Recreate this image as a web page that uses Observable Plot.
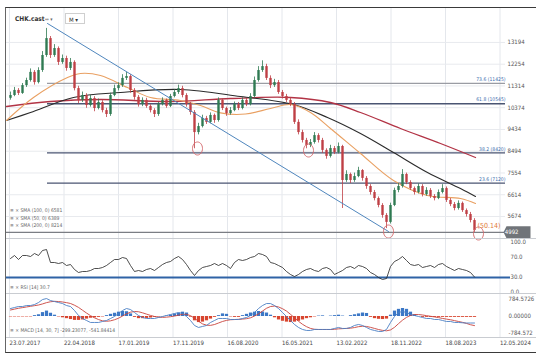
<!DOCTYPE html>
<html><head><meta charset="utf-8">
<script src="https://cdn.jsdelivr.net/npm/d3@7"></script>
<script src="https://cdn.jsdelivr.net/npm/@observablehq/plot@0.6"></script>
<style>
html,body{margin:0;padding:0;background:#fff;}
#wrap{position:relative;width:536px;height:359px;overflow:hidden;font-family:"Liberation Sans Narrow","DejaVu Sans Condensed","Liberation Sans",sans-serif;}
#wrap svg{position:absolute;left:0;overflow:visible;}
.lbl{position:absolute;white-space:nowrap;line-height:1;color:#555;z-index:5;}
.frame{position:absolute;left:5px;top:7px;width:531px;height:346px;border-top:1.5px solid #3a3a3a;border-left:1.5px solid #666;border-bottom:1.5px solid #3a3a3a;box-sizing:border-box;z-index:4;pointer-events:none;}
.sep{position:absolute;left:6px;width:530px;height:0;border-top:1px solid #c9ccd1;z-index:4;}
.mbox{position:absolute;left:65px;top:13px;width:20px;height:11px;border:1px solid #cfcfcf;box-sizing:border-box;font-size:6px;padding:2px 0 0 3px;color:#333;z-index:5;background:#fff;}
</style></head><body><div id="wrap"><div class="frame"></div></div>
<script>
const FONT = '"Liberation Sans Narrow","DejaVu Sans Condensed","Liberation Sans",sans-serif';

// ---------- data ----------
const firstOpen = 10780;
const closes = [10900,11120,10990,11330,11550,11900,11460,11980,12630,13360,
 12630,12930,12330,12500,12070,12330,11200,10690,10900,10470,
 10770,10340,10600,10250,10080,10900,11200,11330,11640,11720,
 11120,10820,10510,10690,10430,10250,10080,10510,10690,10430,
 10860,11030,11200,10900,10510,10170,9300,9560,9910,9740,
 10040,9820,10690,10340,10120,10250,10510,10340,10690,10510,
 10860,11550,11980,12150,11640,11330,11460,11030,10860,10690,
 10510,9740,9300,8960,8740,8870,9170,8960,8530,8270,
 8610,8440,8700,7230,7490,7230,7400,7660,7320,6970,
 6710,6450,6150,5720,5420,6150,6800,6970,7490,7140,
 6880,6710,6970,6620,6800,6540,6450,6710,6880,6370,
 6190,6020,6240,5930,5760,5500,5070];
const highs = [11050,11250,11200,11420,11650,12050,11980,12100,12800,13800,
 13450,13100,13000,12650,12600,12500,12400,11300,11050,10980,
 10900,10850,10750,10680,10350,11000,11350,11450,11800,11900,
 11800,11200,10900,10800,10780,10500,10330,10600,10800,10750,
 10950,11150,11350,11300,10980,10600,10250,9700,10050,10000,
 10150,10100,10800,10750,10400,10380,10620,10600,10800,10780,
 10980,11700,12150,12400,12250,11750,11600,11550,11120,10950,
 10800,10600,9850,9400,9050,9000,9300,9250,9050,8600,
 8750,8700,8850,8750,7650,7550,7550,7800,7700,7400,
 7050,6800,6520,6230,5800,6250,6900,7100,7700,7550,
 7220,6950,7080,7050,6920,6880,6620,6820,7050,6950,
 6450,6280,6350,6300,6000,5850,5580];
const lows = [10700,10850,10900,10950,11250,11480,11350,11400,11900,12550,
 12500,12550,12200,12250,11950,11980,11100,10550,10600,10350,
 10400,10200,10280,10150,9950,10000,10850,11100,11250,11550,
 11000,10700,10400,10420,10350,10150,9950,10000,10450,10350,
 10380,10800,10950,10800,10400,10050,8600,9200,9500,9650,
 9680,9700,9750,10250,10000,10050,10200,10250,10280,10420,
 10450,10800,11480,11900,11550,11200,11250,10950,10750,10600,
 10420,9650,9200,8850,8600,8650,8800,8850,8400,8150,
 8200,8350,8380,6020,7150,7100,7150,7350,7200,6850,
 6600,6350,6050,5600,5150,5350,6100,6700,6900,7050,
 6800,6600,6650,6520,6550,6450,6350,6400,6650,6280,
 6100,5920,5950,5850,5650,5400,4990];

// moving averages read as [bar, value]
const sma50 = [[-1,9821],[5.75,10815],[14.25,11679],[17.5,11852],[22.5,11765],[29.25,11246],[35,10815],[42.5,10685],[47.5,10469],[52.5,10150],[58.75,10100],[65,10340],[70,10512],[75,10167],[80,9476],[87.5,8396],[95.75,7229],[104.25,6581],[112.5,6452],[116.25,6236]];
const sma100 = [[-1,9821],[5,10167],[15.75,10815],[27.5,11031],[42.5,11160],[57.5,10858],[70.75,10512],[79.25,9951],[87.5,9260],[95.75,8439],[104.25,7575],[112.5,6884],[116.25,6538]];
const sma200 = [[-1,10426],[10,10642],[22.5,10728],[40,10642],[55,10772],[70,10815],[80,10599],[87.5,10167],[97.5,9476],[107.5,8828],[116.25,8223]];

const trendPts = [[9.25,14012],[94.5,5026]];
const markedLows = [[46.75,8612],[74.5,8525],[94.5,5026],[117,4940]];

const priceTicks = [13194,12254,11314,10374,9434,8494,7554,6614,5674];
const fibLevels = [11425,10545,8420,7120];
const fibLabels = ["73.6 (11425)","61.8 (10545)","38.2 (8420)","23.6 (7120)"];
const fibStart = 9.25, fibEnd = 123.75;
const lastPrice = 4992;
const lastNote = "(50.14)";

const rsi = [68,74,66,74,74,72,78,74,84,86,
 60,60,58,60,54,56,46,40,42,42,
 44,48,48,50,54,60,66,66,70,68,
 54,42,44,42,46,48,44,50,56,60,
 62,68,72,66,56,44,34,44,50,52,
 54,58,54,58,54,48,60,66,64,66,
 70,72,78,76,72,60,58,54,50,42,
 36,32,36,42,46,48,44,42,48,50,
 46,36,40,44,50,52,48,54,52,48,
 40,36,30,26,28,52,62,66,72,64,
 56,54,56,50,52,54,50,56,58,52,
 48,44,48,46,44,40,31];
const rsiTicks = [100,70,30,0];
const rsiTickLabels = ["100.0","70.0","30.0","0.0"];
const rsiLevel = 30;

const macd = [368,414,460,460,506,506,552,644,782,828,
 736,690,644,598,506,460,276,46,-92,-184,
 -276,-276,-276,-230,-184,-92,0,138,276,368,
 322,184,46,-46,-92,-92,-92,-46,0,46,
 92,138,184,138,0,-184,-414,-506,-460,-414,
 -276,-184,-92,-92,-92,-138,-138,-138,-92,-46,
 46,184,368,506,598,598,506,368,184,0,
 -184,-368,-506,-598,-644,-644,-598,-598,-598,-598,
 -598,-552,-506,-552,-552,-506,-414,-368,-414,-506,
 -598,-644,-690,-690,-598,-276,0,184,230,184,
 92,46,0,-46,-92,-92,-138,-138,-184,-230,
 -230,-276,-276,-290,-300,-300,-300];
const signal = [300,340,380,410,440,470,
 500,530,580,640,680,700,
 690,670,640,600,520,420,
 290,160,40,-60,-140,-200,
 -220,-200,-150,-80,20,120,
 200,230,220,170,110,50,
 0,-30,-40,-30,-10,20,
 60,100,100,40,-80,-220,
 -340,-400,-410,-370,-300,-230,
 -180,-150,-140,-130,-120,-100,
 -60,20,120,250,380,460,
 480,440,360,250,100,-60,
 -220,-360,-470,-550,-590,-600,
 -600,-600,-600,-590,-570,-560,
 -550,-540,-510,-470,-450,-460,
 -500,-550,-600,-640,-660,-620,
 -500,-330,-170,-40,50,90,
 90,70,40,10,-20,-50,
 -90,-120,-150,-190,-230,-270,
 -320,-380,-420];
const hist = [-20,-20,-20,-20,-20,-20,40,80,180,250,
 150,60,-20,-60,-100,-140,-180,-180,-160,-120,
 -80,-60,-40,-20,40,100,150,200,230,220,
 120,-40,-100,-100,-90,-70,-40,-20,-10,20,
 60,110,150,200,160,-30,-200,-280,-260,-200,
 -120,-40,40,120,100,-20,-40,-40,40,100,
 160,200,230,210,160,60,-60,-160,-220,-260,
 -280,-260,-220,-160,-100,-60,-20,20,30,0,
 20,40,60,20,0,40,80,120,160,140,
 -40,-100,-130,-140,-120,60,250,330,370,330,
 200,80,0,-40,-40,-40,-40,-40,-40,-40,
 -40,-40,-40,-40,-40,-40,-40];
const macdTicks = [784.5726,0,-784.572];
const macdTickLabels = ["784.5726","0.00000","-784.572"];

const dateLabels = ["23.07.2017","22.04.2018","17.01.2019","17.11.2019","16.08.2020","16.05.2021","13.02.2022","18.11.2022","18.08.2023","12.05.2024"];
const dateBars = [-0.25,13.375,27,40.625,54.25,67.875,81.5,95.125,108.75,122.375];

const legendLines = ["SMA (100, 0) 6581","SMA (50, 0) 6389","SMA (200, 0) 8214"];
const symbolName = "CHK.cast";

// ---------- helpers ----------
const UP = "#2f7a52", DOWN = "#bf3f45";
const bars = closes.map((c, i) => ({i, open: i === 0 ? firstOpen : closes[i-1], close: c, high: highs[i], low: lows[i]}));
const candleColor = d => d.close >= d.open ? UP : DOWN;
const xOpt = {domain: [-1, 130], axis: null};
const ellipseSym = {draw(ctx){const rx=5, ry=6.5, k=0.5523;
  ctx.moveTo(rx,0); ctx.bezierCurveTo(rx,ry*k,rx*k,ry,0,ry); ctx.bezierCurveTo(-rx*k,ry,-rx,ry*k,-rx,0);
  ctx.bezierCurveTo(-rx,-ry*k,-rx*k,-ry,0,-ry); ctx.bezierCurveTo(rx*k,-ry,rx,-ry*k,rx,0); ctx.closePath();}};
const boxSym = {draw(ctx){ctx.moveTo(-15,0); ctx.lineTo(-12,-6); ctx.lineTo(12,-6); ctx.lineTo(12,6); ctx.lineTo(-12,6); ctx.closePath();}};
const wrap = document.getElementById("wrap");
function place(svg, top){ svg.style.top = top + "px"; svg.style.position = "absolute"; wrap.appendChild(svg); }
const grid = Plot.ruleX(dateBars, {x: d => d, stroke: "#e4e7ec", strokeWidth: 1});

// ---------- main pane ----------
const main = Plot.plot({
  width: 536, height: 231, marginTop: 0, marginBottom: 0, marginLeft: 6, marginRight: 6,
  x: xOpt, y: {domain: [4724, 14703], axis: null},
  style: {background: "none", fontFamily: FONT, overflow: "visible"},
  marks: [
    grid,
    Plot.ruleY(priceTicks, {y: d => d, x1: -1, x2: fibEnd, stroke: "#e8eaee", strokeWidth: 1}),
    Plot.ruleY(fibLevels.slice(0,1), {y: d => d, x1: fibStart, x2: fibEnd, stroke: "#9a9ca3", strokeWidth: 1.2}),
    Plot.ruleY(fibLevels.slice(1), {y: d => d, x1: fibStart, x2: fibEnd, stroke: "#4a5572", strokeWidth: 1.3}),
    Plot.text(fibLevels, {y: d => d, x: fibEnd, text: (d, i) => fibLabels[i], textAnchor: "end", dy: -4, fill: "#3c6cad", fontSize: 5}),
    Plot.ruleY([lastPrice], {y: d => d, stroke: "#7b7e84", strokeWidth: 1.3}),
    Plot.line(sma200, {x: d => d[0], y: d => d[1], stroke: "#b23345", strokeWidth: 1.3, curve: "catmull-rom"}),
    Plot.line(sma100, {x: d => d[0], y: d => d[1], stroke: "#2b2b2b", strokeWidth: 1.1, curve: "catmull-rom"}),
    Plot.line(sma50, {x: d => d[0], y: d => d[1], stroke: "#e9a062", strokeWidth: 1.1, curve: "catmull-rom"}),
    Plot.ruleX(bars, {x: "i", y1: "low", y2: "high", stroke: candleColor, strokeWidth: 0.8}),
    Plot.ruleX(bars, {x: "i", y1: "open", y2: "close", stroke: candleColor, strokeWidth: 2.4}),
    Plot.line(trendPts, {x: d => d[0], y: d => d[1], stroke: "#4f86bd", strokeWidth: 1}),
    Plot.dot(markedLows, {x: d => d[0], y: d => d[1], symbol: ellipseSym, r: 5, stroke: "#d4676a", fill: "none", strokeWidth: 0.9}),
    Plot.text(priceTicks, {y: d => d, frameAnchor: "right", dx: -23, textAnchor: "start", text: d => String(d), fontSize: 6, fill: "#555"}),
    Plot.dot([lastPrice], {y: d => d, frameAnchor: "right", dx: -12, symbol: boxSym, r: 5, fill: "#707479", stroke: "none"}),
    Plot.text([lastPrice], {y: d => d, frameAnchor: "right", dx: -12, text: d => String(d), fill: "#fff", fontSize: 6}),
    Plot.text([lastPrice], {y: d => d, frameAnchor: "right", dx: -30, dy: -7, text: () => lastNote, textAnchor: "end", fill: "#e07a3a", fontSize: 7})
  ]
});
place(main, 7);

// ---------- RSI pane ----------
const rsiPlot = Plot.plot({
  width: 536, height: 59, marginTop: 0, marginBottom: 4, marginLeft: 6, marginRight: 6,
  x: xOpt, y: {domain: [-2, 108], axis: null},
  style: {background: "none", fontFamily: FONT, overflow: "visible"},
  marks: [
    grid,
    Plot.ruleY([rsiLevel], {y: d => d, x1: -1, x2: 125, stroke: "#2f63a6", strokeWidth: 2}),
    Plot.line(rsi, {x: (d, i) => i, y: d => d, stroke: "#222", strokeWidth: 0.8}),
    Plot.text(rsiTicks, {y: d => d, frameAnchor: "right", dx: -20, textAnchor: "start", text: (d, i) => rsiTickLabels[i], fontSize: 6, fill: "#555"})
  ]
});
place(rsiPlot, 238);

// ---------- MACD pane + date axis ----------
const macdPlot = Plot.plot({
  width: 536, height: 66, marginTop: 0, marginBottom: 22, marginLeft: 6, marginRight: 6,
  x: xOpt, y: {domain: [-969, 1061], axis: null},
  style: {background: "none", fontFamily: FONT, overflow: "visible"},
  marks: [
    grid,
    Plot.ruleX(hist, {x: (d, i) => i, y1: 0, y2: d => d, stroke: d => d >= 0 ? "#3b77c6" : "#d8452f", strokeWidth: 3.2}),
    Plot.line(signal, {x: (d, i) => i, y: d => d, stroke: "#c8433c", strokeWidth: 0.9}),
    Plot.line(macd, {x: (d, i) => i, y: d => d, stroke: "#4a7fc4", strokeWidth: 0.9}),
    Plot.text(macdTicks, {y: d => d, frameAnchor: "right", dx: -22, textAnchor: "start", text: (d, i) => macdTickLabels[i], fontSize: 6, fill: "#555"}),
    Plot.text(dateLabels, {x: (d, i) => dateBars[i], frameAnchor: "bottom", dy: 7, textAnchor: "start", text: d => d, fontSize: 6, fill: "#444"})
  ]
});
place(macdPlot, 293);

// ---------- html labels ----------
function lbl(text, left, top, size, extra) {
  const d = document.createElement("div"); d.className = "lbl"; d.textContent = text;
  d.style.left = left + "px"; d.style.top = top + "px"; d.style.fontSize = size + "px";
  if (extra) Object.assign(d.style, extra); wrap.appendChild(d); return d;
}
lbl(symbolName, 15, 16, 6.5, {fontWeight: "600", color: "#333"});
lbl("\u21d4 \u25be", 45, 17, 5, {color: "#666"});
const mb = document.createElement("div"); mb.className = "mbox"; mb.textContent = "M \u25be"; wrap.appendChild(mb);
legendLines.forEach((t, i) => lbl("\u2261 \u00d7 " + t, 10, 208 + i * 7.5, 5, {color: "#666"}));
lbl("\u2261 \u00d7 RSI [14] 30.7", 10, 285, 5, {color: "#666"});
lbl("\u2261 \u00d7 MACD [14, 30, 7] -299.23077, -541.84414", 10, 328, 5, {color: "#666"});
[238, 293, 337].forEach(t => { const s = document.createElement("div"); s.className = "sep"; s.style.top = t + "px"; wrap.appendChild(s); });
</script>
</body></html>
